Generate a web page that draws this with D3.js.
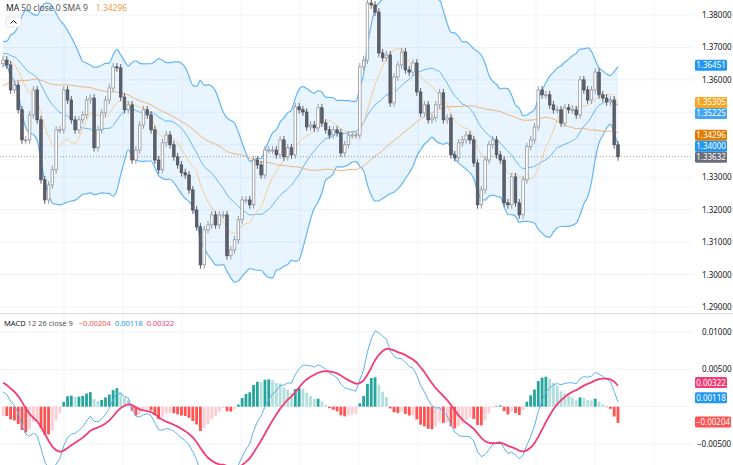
<!DOCTYPE html>
<html><head><meta charset="utf-8">
<script src="https://cdn.jsdelivr.net/npm/d3@7"></script>
<style>body{margin:0;background:#fff}text{font-family:"Noto Sans",sans-serif}</style>
</head><body>
<script>
// closes before the visible window (only used to warm up the indicators)
var priorCloses = [1.3352,1.3370,1.3361,1.3388,1.3402,1.3395,1.3421,1.3440,1.3431,1.3458,
  1.3470,1.3462,1.3489,1.3501,1.3495,1.3520,1.3512,1.3534,1.3551,1.3540,
  1.3565,1.3580,1.3571,1.3596,1.3610,1.3602,1.3624,1.3640,1.3631,1.3655,
  1.3668,1.3660,1.3684,1.3671,1.3690,1.3702,1.3688,1.3710,1.3695,1.3681,
  1.3699,1.3712,1.3690,1.3675,1.3694,1.3680,1.3661,1.3672,1.3655,1.3650];
// visible daily closes
var closes = [1.3661,1.3646,1.3569,1.3584,1.3508,1.3415,1.3415,1.3492,1.3569,1.3477,
  1.3292,1.3230,1.3276,1.3323,1.3446,1.3446,1.3569,1.3538,1.3477,1.3446,
  1.3477,1.3492,1.3538,1.3544,1.3391,1.3446,1.3498,1.3538,1.3575,1.3640,
  1.3637,1.3547,1.3508,1.3523,1.3353,1.3384,1.3461,1.3508,1.3492,1.3446,
  1.3353,1.3323,1.3406,1.3430,1.3400,1.3363,1.3338,1.3314,1.3307,1.3261,
  1.3199,1.3147,1.3030,1.3138,1.3153,1.3184,1.3153,1.3184,1.3184,1.3058,
  1.3076,1.3107,1.3169,1.3230,1.3230,1.3215,1.3353,1.3338,1.3307,1.3384,
  1.3384,1.3384,1.3369,1.3415,1.3363,1.3391,1.3369,1.3517,1.3508,1.3501,
  1.3455,1.3461,1.3452,1.3514,1.3467,1.3446,1.3430,1.3446,1.3437,1.3375,
  1.3400,1.3430,1.3430,1.3430,1.3640,1.3661,1.3837,1.3831,1.3809,1.3683,
  1.3668,1.3677,1.3529,1.3609,1.3646,1.3686,1.3631,1.3624,1.3652,1.3563,
  1.3498,1.3523,1.3477,1.3483,1.3523,1.3560,1.3477,1.3483,1.3369,1.3360,
  1.3406,1.3415,1.3430,1.3415,1.3344,1.3215,1.3261,1.3353,1.3400,1.3415,
  1.3369,1.3353,1.3221,1.3215,1.3301,1.3221,1.3184,1.3292,1.3394,1.3415,
  1.3455,1.3569,1.3554,1.3554,1.3523,1.3508,1.3508,1.3467,1.3514,1.3508,
  1.3508,1.3492,1.3600,1.3569,1.3538,1.3569,1.3624,1.3554,1.3544,1.3532,
  1.3538,1.3400,1.3363];
var wick = 0.0012;
var priceTicks = [1.29,1.30,1.31,1.32,1.33,1.34,1.35,1.36,1.37,1.38];
var macdTicks = [0.01,0.005,0,-0.005];
// last values shown on the axis tags
var priceTags = [{v:1.36451,c:"#2196f3"},{v:1.35305,c:"#f6a623"},{v:1.35225,c:"#42a5f5"},
  {v:1.34296,c:"#e57c00"},{v:1.34000,c:"#2196f3"},{v:1.33632,c:"#6a6d78"}];
var macdTags = [{v:0.00322,c:"#f23c75"},{v:0.00118,c:"#2196f3"},{v:-0.00204,c:"#ff5252"}];
var maLegend = "1.34296";
var macdLegend = [{t:"\u22120.00204",c:"#ff5252"},{t:"0.00118",c:"#2196f3"},{t:"0.00322",c:"#f23c75"}];

var W = 733, H = 465, n0 = priorCloses.length;
var all = priorCloses.concat(closes);
function sma(a, p){ return a.map(function(d,i){ if(i<p-1) return null; return d3.mean(a.slice(i-p+1,i+1)); }); }
function ema(a, p){ var k=2/(p+1), out=[], prev=a[0]; a.forEach(function(d,i){ prev = i===0?d:d*k+prev*(1-k); out.push(prev); }); return out; }
var basis = sma(all,20), fast = sma(all,10), ma50 = sma(all,50);
var sd = all.map(function(d,i){ return i<19?null:d3.deviation(all.slice(i-19,i+1)); });
var e12 = ema(all,12), e26 = ema(all,26);
var macd = e12.map(function(d,i){ return d-e26[i]; });
var signal = ema(macd,9);
var hist = macd.map(function(d,i){ return d-signal[i]; });

var x = d3.scaleLinear().domain([0, closes.length-1]).range([3, 618]);
var y = d3.scaleLinear().domain([1.29,1.38]).range([307,15]);
var ym = d3.scaleLinear().domain([-0.005,0.01]).range([444,332]);
var idx = d3.range(closes.length);

var svg = d3.select("body").append("svg").attr("width",W).attr("height",H);
var defs = svg.append("defs");
defs.append("clipPath").attr("id","cp").append("rect").attr("width",693).attr("height",313);
defs.append("clipPath").attr("id","cm").append("rect").attr("y",314).attr("width",693).attr("height",151);

// grid
var grid = svg.append("g").attr("stroke","#f0f3fa");
d3.range(64,693,59).forEach(function(gx){ grid.append("line").attr("x1",gx).attr("x2",gx).attr("y1",0).attr("y2",H); });
priceTicks.forEach(function(t){ grid.append("line").attr("x1",0).attr("x2",693).attr("y1",y(t)).attr("y2",y(t)); });
macdTicks.forEach(function(t){ grid.append("line").attr("x1",0).attr("x2",693).attr("y1",ym(t)).attr("y2",ym(t)); });
svg.append("line").attr("x1",0).attr("x2",W).attr("y1",313.5).attr("y2",313.5).attr("stroke","#d6d9e0");

var pp = svg.append("g").attr("clip-path","url(#cp)");
var band = d3.area().defined(function(i){return basis[i+n0]!==null;}).x(function(i){return x(i);})
  .y0(function(i){return y(basis[i+n0]-2*sd[i+n0]);}).y1(function(i){return y(basis[i+n0]+2*sd[i+n0]);}).curve(d3.curveMonotoneX);
pp.append("path").datum(idx).attr("d",band).attr("fill","rgba(33,150,243,0.1)");
function ln(arr, off){ return d3.line().x(function(i){return x(i);}).y(function(i){return y(arr[i+n0]+off(i+n0));}).curve(d3.curveMonotoneX); }
var zero = function(){return 0;};
pp.append("path").datum(idx).attr("d",ln(basis,function(j){return 2*sd[j];})).attr("fill","none").attr("stroke","#64b5f6").attr("stroke-width",1.2);
pp.append("path").datum(idx).attr("d",ln(basis,function(j){return -2*sd[j];})).attr("fill","none").attr("stroke","#64b5f6").attr("stroke-width",1.2);
pp.append("path").datum(idx).attr("d",ln(basis,zero)).attr("fill","none").attr("stroke","#64b5f6").attr("stroke-width",1);
pp.append("path").datum(idx).attr("d",ln(fast,zero)).attr("fill","none").attr("stroke","#f5cd8f").attr("stroke-width",1);
pp.append("path").datum(idx).attr("d",ln(ma50,zero)).attr("fill","none").attr("stroke","#eeb57a").attr("stroke-width",1);

// current price line
pp.append("line").attr("x1",0).attr("x2",693).attr("y1",y(1.33632)).attr("y2",y(1.33632))
  .attr("stroke","#9598a1").attr("stroke-dasharray","1,2");

// candles
var cw = 2.6;
var cg = pp.append("g").selectAll("g").data(idx).join("g");
cg.each(function(i){
  var c = closes[i], o = all[i+n0-1], up = c>=o, g = d3.select(this);
  var hi = Math.max(o,c)+wick, lo = Math.min(o,c)-wick;
  g.append("line").attr("x1",x(i)).attr("x2",x(i)).attr("y1",y(hi)).attr("y2",y(lo)).attr("stroke",up?"#9a9da5":"#5d606b");
  g.append("rect").attr("x",x(i)-cw/2).attr("width",cw).attr("y",y(Math.max(o,c)))
    .attr("height",Math.max(1,Math.abs(y(o)-y(c)))).attr("fill",up?"#fff":"#5d606b").attr("stroke",up?"#888b94":"#4a4d57").attr("stroke-width",0.7);
});

// MACD pane
var mp = svg.append("g").attr("clip-path","url(#cm)");
mp.selectAll("rect").data(idx).join("rect")
  .attr("x",function(i){return x(i)-1.4;}).attr("width",2.8)
  .attr("y",function(i){return Math.min(ym(0),ym(hist[i+n0]));})
  .attr("height",function(i){return Math.abs(ym(hist[i+n0])-ym(0));})
  .attr("fill",function(i){ var h=hist[i+n0], p=hist[i+n0-1];
    if(h>=0) return h>=p?"#26a69a":"#b2dfdb"; return h<=p?"#ff5252":"#ffcdd2"; });
var ml = function(arr){ return d3.line().x(function(i){return x(i);}).y(function(i){return ym(arr[i+n0]);}); };
mp.append("path").datum(idx).attr("d",ml(macd)).attr("fill","none").attr("stroke","#5fb0f2").attr("stroke-width",1);
mp.append("path").datum(idx).attr("d",ml(signal)).attr("fill","none").attr("stroke","#f23c75").attr("stroke-width",1.8);

// axes: tags first so colliding tick labels can be skipped
var ax = svg.append("g").attr("font-size",8).attr("fill","#131722");
function tags(list, sc){
  var last = -1e9, placed = [];
  list.map(function(t){ return {t:t, py:sc(t.v)}; }).sort(function(a,b){ return a.py-b.py; }).forEach(function(d){
    var py = Math.max(d.py, last+11); last = py; placed.push(py);
    var neg = d.t.v<0, bw = neg?36:32, bx = 695;
    ax.append("rect").attr("x",bx).attr("y",py-5.5).attr("width",bw).attr("height",11).attr("rx",1.5).attr("fill",d.t.c);
    ax.append("text").attr("x",bx+bw/2).attr("y",py+3).attr("text-anchor","middle").attr("fill","#fff")
      .text((neg?"\u2212":"")+Math.abs(d.t.v).toFixed(5));
  });
  return placed;
}
var pTaken = tags(priceTags, y), mTaken = tags(macdTags, ym);
function free(py, taken){ return taken.every(function(t){ return Math.abs(t-py)>10; }); }
priceTicks.forEach(function(t){ if(free(y(t),pTaken)) ax.append("text").attr("x",702).attr("y",y(t)+3).text(t.toFixed(5)); });
macdTicks.forEach(function(t){ if(free(ym(t),mTaken)) ax.append("text").attr("x",t<0?697:702).attr("y",ym(t)+3).text((t<0?"\u2212":"")+Math.abs(t).toFixed(5)); });

// legends
var lg = svg.append("text").attr("x",6).attr("y",11).attr("font-size",8.5).attr("fill","#555");
lg.append("tspan").attr("fill","#131722").text("MA");
lg.append("tspan").text(" 50 close 0 SMA 9");
lg.append("tspan").attr("dx",8).attr("fill","#f0a04b").text(maLegend);
svg.append("rect").attr("x",6).attr("y",17).attr("width",15).attr("height",10).attr("rx",2).attr("fill","#fff").attr("stroke","#e0e3eb");
svg.append("path").attr("d","M10.5,23.5 L13.5,20.5 L16.5,23.5").attr("fill","none").attr("stroke","#131722");
var lm = svg.append("text").attr("x",4).attr("y",326).attr("font-size",7.5).attr("fill","#555");
lm.append("tspan").attr("fill","#131722").text("MACD");
lm.append("tspan").text(" 12 26 close 9");
macdLegend.forEach(function(m,k){ lm.append("tspan").attr("dx",k?4:6).attr("fill",m.c).text(m.t); });
</script>
</body></html>
